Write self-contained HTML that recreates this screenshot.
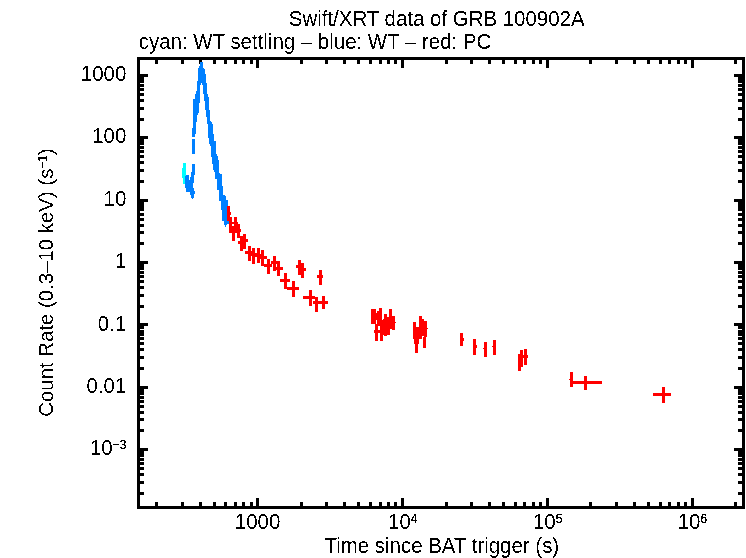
<!DOCTYPE html>
<html><head><meta charset="utf-8"><title>Swift/XRT data of GRB 100902A</title>
<style>
html,body{margin:0;padding:0;background:#fff;}
svg{display:block}
text{font-family:"Liberation Sans",sans-serif;font-size:21.6px;fill:#000}
</style></head><body>
<svg width="746" height="558" viewBox="0 0 746 558">
<rect width="746" height="558" fill="#fff"/>
<g shape-rendering="crispEdges">
<rect x="137" y="57" width="608" height="3" fill="#000"/>
<rect x="137" y="506" width="608" height="3" fill="#000"/>
<rect x="137" y="57" width="3" height="452" fill="#000"/>
<rect x="742" y="57" width="3" height="452" fill="#000"/>
<rect x="155" y="60" width="3" height="4" fill="#000"/>
<rect x="155" y="502" width="3" height="4" fill="#000"/>
<rect x="181" y="60" width="3" height="4" fill="#000"/>
<rect x="181" y="502" width="3" height="4" fill="#000"/>
<rect x="199" y="60" width="3" height="4" fill="#000"/>
<rect x="199" y="502" width="3" height="4" fill="#000"/>
<rect x="213" y="60" width="3" height="4" fill="#000"/>
<rect x="213" y="502" width="3" height="4" fill="#000"/>
<rect x="224" y="60" width="3" height="4" fill="#000"/>
<rect x="224" y="502" width="3" height="4" fill="#000"/>
<rect x="234" y="60" width="3" height="4" fill="#000"/>
<rect x="234" y="502" width="3" height="4" fill="#000"/>
<rect x="242" y="60" width="3" height="4" fill="#000"/>
<rect x="242" y="502" width="3" height="4" fill="#000"/>
<rect x="250" y="60" width="3" height="4" fill="#000"/>
<rect x="250" y="502" width="3" height="4" fill="#000"/>
<rect x="256" y="60" width="3" height="8" fill="#000"/>
<rect x="256" y="498" width="3" height="8" fill="#000"/>
<rect x="300" y="60" width="3" height="4" fill="#000"/>
<rect x="300" y="502" width="3" height="4" fill="#000"/>
<rect x="325" y="60" width="3" height="4" fill="#000"/>
<rect x="325" y="502" width="3" height="4" fill="#000"/>
<rect x="343" y="60" width="3" height="4" fill="#000"/>
<rect x="343" y="502" width="3" height="4" fill="#000"/>
<rect x="357" y="60" width="3" height="4" fill="#000"/>
<rect x="357" y="502" width="3" height="4" fill="#000"/>
<rect x="369" y="60" width="3" height="4" fill="#000"/>
<rect x="369" y="502" width="3" height="4" fill="#000"/>
<rect x="379" y="60" width="3" height="4" fill="#000"/>
<rect x="379" y="502" width="3" height="4" fill="#000"/>
<rect x="387" y="60" width="3" height="4" fill="#000"/>
<rect x="387" y="502" width="3" height="4" fill="#000"/>
<rect x="394" y="60" width="3" height="4" fill="#000"/>
<rect x="394" y="502" width="3" height="4" fill="#000"/>
<rect x="401" y="60" width="3" height="8" fill="#000"/>
<rect x="401" y="498" width="3" height="8" fill="#000"/>
<rect x="445" y="60" width="3" height="4" fill="#000"/>
<rect x="445" y="502" width="3" height="4" fill="#000"/>
<rect x="470" y="60" width="3" height="4" fill="#000"/>
<rect x="470" y="502" width="3" height="4" fill="#000"/>
<rect x="488" y="60" width="3" height="4" fill="#000"/>
<rect x="488" y="502" width="3" height="4" fill="#000"/>
<rect x="502" y="60" width="3" height="4" fill="#000"/>
<rect x="502" y="502" width="3" height="4" fill="#000"/>
<rect x="514" y="60" width="3" height="4" fill="#000"/>
<rect x="514" y="502" width="3" height="4" fill="#000"/>
<rect x="523" y="60" width="3" height="4" fill="#000"/>
<rect x="523" y="502" width="3" height="4" fill="#000"/>
<rect x="532" y="60" width="3" height="4" fill="#000"/>
<rect x="532" y="502" width="3" height="4" fill="#000"/>
<rect x="539" y="60" width="3" height="4" fill="#000"/>
<rect x="539" y="502" width="3" height="4" fill="#000"/>
<rect x="546" y="60" width="3" height="8" fill="#000"/>
<rect x="546" y="498" width="3" height="8" fill="#000"/>
<rect x="589" y="60" width="3" height="4" fill="#000"/>
<rect x="589" y="502" width="3" height="4" fill="#000"/>
<rect x="615" y="60" width="3" height="4" fill="#000"/>
<rect x="615" y="502" width="3" height="4" fill="#000"/>
<rect x="633" y="60" width="3" height="4" fill="#000"/>
<rect x="633" y="502" width="3" height="4" fill="#000"/>
<rect x="647" y="60" width="3" height="4" fill="#000"/>
<rect x="647" y="502" width="3" height="4" fill="#000"/>
<rect x="659" y="60" width="3" height="4" fill="#000"/>
<rect x="659" y="502" width="3" height="4" fill="#000"/>
<rect x="668" y="60" width="3" height="4" fill="#000"/>
<rect x="668" y="502" width="3" height="4" fill="#000"/>
<rect x="677" y="60" width="3" height="4" fill="#000"/>
<rect x="677" y="502" width="3" height="4" fill="#000"/>
<rect x="684" y="60" width="3" height="4" fill="#000"/>
<rect x="684" y="502" width="3" height="4" fill="#000"/>
<rect x="691" y="60" width="3" height="8" fill="#000"/>
<rect x="691" y="498" width="3" height="8" fill="#000"/>
<rect x="734" y="60" width="3" height="4" fill="#000"/>
<rect x="734" y="502" width="3" height="4" fill="#000"/>
<rect x="140" y="492" width="4" height="3" fill="#000"/>
<rect x="738" y="492" width="4" height="3" fill="#000"/>
<rect x="140" y="481" width="4" height="3" fill="#000"/>
<rect x="738" y="481" width="4" height="3" fill="#000"/>
<rect x="140" y="473" width="4" height="3" fill="#000"/>
<rect x="738" y="473" width="4" height="3" fill="#000"/>
<rect x="140" y="467" width="4" height="3" fill="#000"/>
<rect x="738" y="467" width="4" height="3" fill="#000"/>
<rect x="140" y="462" width="4" height="3" fill="#000"/>
<rect x="738" y="462" width="4" height="3" fill="#000"/>
<rect x="140" y="458" width="4" height="3" fill="#000"/>
<rect x="738" y="458" width="4" height="3" fill="#000"/>
<rect x="140" y="454" width="4" height="3" fill="#000"/>
<rect x="738" y="454" width="4" height="3" fill="#000"/>
<rect x="140" y="451" width="4" height="3" fill="#000"/>
<rect x="738" y="451" width="4" height="3" fill="#000"/>
<rect x="140" y="448" width="8" height="3" fill="#000"/>
<rect x="734" y="448" width="8" height="3" fill="#000"/>
<rect x="140" y="429" width="4" height="3" fill="#000"/>
<rect x="738" y="429" width="4" height="3" fill="#000"/>
<rect x="140" y="418" width="4" height="3" fill="#000"/>
<rect x="738" y="418" width="4" height="3" fill="#000"/>
<rect x="140" y="411" width="4" height="3" fill="#000"/>
<rect x="738" y="411" width="4" height="3" fill="#000"/>
<rect x="140" y="405" width="4" height="3" fill="#000"/>
<rect x="738" y="405" width="4" height="3" fill="#000"/>
<rect x="140" y="400" width="4" height="3" fill="#000"/>
<rect x="738" y="400" width="4" height="3" fill="#000"/>
<rect x="140" y="396" width="4" height="3" fill="#000"/>
<rect x="738" y="396" width="4" height="3" fill="#000"/>
<rect x="140" y="392" width="4" height="3" fill="#000"/>
<rect x="738" y="392" width="4" height="3" fill="#000"/>
<rect x="140" y="389" width="4" height="3" fill="#000"/>
<rect x="738" y="389" width="4" height="3" fill="#000"/>
<rect x="140" y="386" width="8" height="3" fill="#000"/>
<rect x="734" y="386" width="8" height="3" fill="#000"/>
<rect x="140" y="367" width="4" height="3" fill="#000"/>
<rect x="738" y="367" width="4" height="3" fill="#000"/>
<rect x="140" y="356" width="4" height="3" fill="#000"/>
<rect x="738" y="356" width="4" height="3" fill="#000"/>
<rect x="140" y="348" width="4" height="3" fill="#000"/>
<rect x="738" y="348" width="4" height="3" fill="#000"/>
<rect x="140" y="342" width="4" height="3" fill="#000"/>
<rect x="738" y="342" width="4" height="3" fill="#000"/>
<rect x="140" y="337" width="4" height="3" fill="#000"/>
<rect x="738" y="337" width="4" height="3" fill="#000"/>
<rect x="140" y="333" width="4" height="3" fill="#000"/>
<rect x="738" y="333" width="4" height="3" fill="#000"/>
<rect x="140" y="330" width="4" height="3" fill="#000"/>
<rect x="738" y="330" width="4" height="3" fill="#000"/>
<rect x="140" y="326" width="4" height="3" fill="#000"/>
<rect x="738" y="326" width="4" height="3" fill="#000"/>
<rect x="140" y="323" width="8" height="3" fill="#000"/>
<rect x="734" y="323" width="8" height="3" fill="#000"/>
<rect x="140" y="305" width="4" height="3" fill="#000"/>
<rect x="738" y="305" width="4" height="3" fill="#000"/>
<rect x="140" y="294" width="4" height="3" fill="#000"/>
<rect x="738" y="294" width="4" height="3" fill="#000"/>
<rect x="140" y="286" width="4" height="3" fill="#000"/>
<rect x="738" y="286" width="4" height="3" fill="#000"/>
<rect x="140" y="280" width="4" height="3" fill="#000"/>
<rect x="738" y="280" width="4" height="3" fill="#000"/>
<rect x="140" y="275" width="4" height="3" fill="#000"/>
<rect x="738" y="275" width="4" height="3" fill="#000"/>
<rect x="140" y="271" width="4" height="3" fill="#000"/>
<rect x="738" y="271" width="4" height="3" fill="#000"/>
<rect x="140" y="267" width="4" height="3" fill="#000"/>
<rect x="738" y="267" width="4" height="3" fill="#000"/>
<rect x="140" y="264" width="4" height="3" fill="#000"/>
<rect x="738" y="264" width="4" height="3" fill="#000"/>
<rect x="140" y="261" width="8" height="3" fill="#000"/>
<rect x="734" y="261" width="8" height="3" fill="#000"/>
<rect x="140" y="242" width="4" height="3" fill="#000"/>
<rect x="738" y="242" width="4" height="3" fill="#000"/>
<rect x="140" y="231" width="4" height="3" fill="#000"/>
<rect x="738" y="231" width="4" height="3" fill="#000"/>
<rect x="140" y="224" width="4" height="3" fill="#000"/>
<rect x="738" y="224" width="4" height="3" fill="#000"/>
<rect x="140" y="218" width="4" height="3" fill="#000"/>
<rect x="738" y="218" width="4" height="3" fill="#000"/>
<rect x="140" y="213" width="4" height="3" fill="#000"/>
<rect x="738" y="213" width="4" height="3" fill="#000"/>
<rect x="140" y="208" width="4" height="3" fill="#000"/>
<rect x="738" y="208" width="4" height="3" fill="#000"/>
<rect x="140" y="205" width="4" height="3" fill="#000"/>
<rect x="738" y="205" width="4" height="3" fill="#000"/>
<rect x="140" y="202" width="4" height="3" fill="#000"/>
<rect x="738" y="202" width="4" height="3" fill="#000"/>
<rect x="140" y="199" width="8" height="3" fill="#000"/>
<rect x="734" y="199" width="8" height="3" fill="#000"/>
<rect x="140" y="180" width="4" height="3" fill="#000"/>
<rect x="738" y="180" width="4" height="3" fill="#000"/>
<rect x="140" y="169" width="4" height="3" fill="#000"/>
<rect x="738" y="169" width="4" height="3" fill="#000"/>
<rect x="140" y="161" width="4" height="3" fill="#000"/>
<rect x="738" y="161" width="4" height="3" fill="#000"/>
<rect x="140" y="155" width="4" height="3" fill="#000"/>
<rect x="738" y="155" width="4" height="3" fill="#000"/>
<rect x="140" y="150" width="4" height="3" fill="#000"/>
<rect x="738" y="150" width="4" height="3" fill="#000"/>
<rect x="140" y="146" width="4" height="3" fill="#000"/>
<rect x="738" y="146" width="4" height="3" fill="#000"/>
<rect x="140" y="142" width="4" height="3" fill="#000"/>
<rect x="738" y="142" width="4" height="3" fill="#000"/>
<rect x="140" y="139" width="4" height="3" fill="#000"/>
<rect x="738" y="139" width="4" height="3" fill="#000"/>
<rect x="140" y="136" width="8" height="3" fill="#000"/>
<rect x="734" y="136" width="8" height="3" fill="#000"/>
<rect x="140" y="118" width="4" height="3" fill="#000"/>
<rect x="738" y="118" width="4" height="3" fill="#000"/>
<rect x="140" y="107" width="4" height="3" fill="#000"/>
<rect x="738" y="107" width="4" height="3" fill="#000"/>
<rect x="140" y="99" width="4" height="3" fill="#000"/>
<rect x="738" y="99" width="4" height="3" fill="#000"/>
<rect x="140" y="93" width="4" height="3" fill="#000"/>
<rect x="738" y="93" width="4" height="3" fill="#000"/>
<rect x="140" y="88" width="4" height="3" fill="#000"/>
<rect x="738" y="88" width="4" height="3" fill="#000"/>
<rect x="140" y="84" width="4" height="3" fill="#000"/>
<rect x="738" y="84" width="4" height="3" fill="#000"/>
<rect x="140" y="80" width="4" height="3" fill="#000"/>
<rect x="738" y="80" width="4" height="3" fill="#000"/>
<rect x="140" y="77" width="4" height="3" fill="#000"/>
<rect x="738" y="77" width="4" height="3" fill="#000"/>
<rect x="140" y="74" width="8" height="3" fill="#000"/>
<rect x="734" y="74" width="8" height="3" fill="#000"/>
<rect x="183" y="163" width="3" height="21" fill="#00ffff"/>
<rect x="182" y="168" width="1" height="10" fill="#00ffff"/>
<rect x="192" y="139" width="3" height="15" fill="#0080ff"/>
<rect x="227" y="206" width="3" height="15" fill="#ff0000"/>
<rect x="227" y="212" width="4" height="3" fill="#ff0000"/>
<rect x="229" y="217" width="3" height="16" fill="#ff0000"/>
<rect x="228" y="222" width="7" height="2" fill="#ff0000"/>
<rect x="232" y="226" width="3" height="15" fill="#ff0000"/>
<rect x="234" y="217" width="3" height="16" fill="#ff0000"/>
<rect x="237" y="224" width="3" height="14" fill="#ff0000"/>
<rect x="236" y="229" width="5" height="3" fill="#ff0000"/>
<rect x="237" y="222" width="1" height="2" fill="#ff0000"/>
<rect x="240" y="236" width="3" height="15" fill="#ff0000"/>
<rect x="238" y="241" width="6" height="3" fill="#ff0000"/>
<rect x="243" y="234" width="3" height="15" fill="#ff0000"/>
<rect x="242" y="239" width="6" height="3" fill="#ff0000"/>
<rect x="248" y="246" width="3" height="15" fill="#ff0000"/>
<rect x="245" y="251" width="8" height="3" fill="#ff0000"/>
<rect x="252" y="248" width="3" height="16" fill="#ff0000"/>
<rect x="250" y="253" width="7" height="3" fill="#ff0000"/>
<rect x="257" y="248" width="3" height="15" fill="#ff0000"/>
<rect x="255" y="254" width="7" height="3" fill="#ff0000"/>
<rect x="261" y="250" width="3" height="16" fill="#ff0000"/>
<rect x="260" y="256" width="7" height="3" fill="#ff0000"/>
<rect x="267" y="259" width="3" height="15" fill="#ff0000"/>
<rect x="264" y="264" width="8" height="3" fill="#ff0000"/>
<rect x="273" y="256" width="3" height="15" fill="#ff0000"/>
<rect x="271" y="261" width="9" height="3" fill="#ff0000"/>
<rect x="277" y="261" width="3" height="15" fill="#ff0000"/>
<rect x="275" y="267" width="8" height="3" fill="#ff0000"/>
<rect x="284" y="273" width="3" height="16" fill="#ff0000"/>
<rect x="280" y="279" width="10" height="3" fill="#ff0000"/>
<rect x="292" y="281" width="3" height="16" fill="#ff0000"/>
<rect x="287" y="287" width="12" height="3" fill="#ff0000"/>
<rect x="298" y="260" width="3" height="15" fill="#ff0000"/>
<rect x="296" y="265" width="7" height="3" fill="#ff0000"/>
<rect x="301" y="263" width="3" height="15" fill="#ff0000"/>
<rect x="298" y="268" width="8" height="3" fill="#ff0000"/>
<rect x="319" y="270" width="3" height="15" fill="#ff0000"/>
<rect x="317" y="275" width="6" height="3" fill="#ff0000"/>
<rect x="309" y="290" width="3" height="16" fill="#ff0000"/>
<rect x="303" y="296" width="12" height="3" fill="#ff0000"/>
<rect x="315" y="297" width="3" height="15" fill="#ff0000"/>
<rect x="313" y="301" width="6" height="3" fill="#ff0000"/>
<rect x="322" y="296" width="3" height="13" fill="#ff0000"/>
<rect x="319" y="301" width="9" height="3" fill="#ff0000"/>
<rect x="371" y="309" width="5" height="15" fill="#ff0000"/>
<rect x="376" y="313" width="1" height="7" fill="#ff0000"/>
<rect x="375" y="324" width="3" height="17" fill="#ff0000"/>
<rect x="374" y="330" width="6" height="3" fill="#ff0000"/>
<rect x="377" y="311" width="3" height="15" fill="#ff0000"/>
<rect x="379" y="308" width="3" height="12" fill="#ff0000"/>
<rect x="380" y="320" width="3" height="21" fill="#ff0000"/>
<rect x="383" y="319" width="1" height="16" fill="#ff0000"/>
<rect x="384" y="314" width="3" height="22" fill="#ff0000"/>
<rect x="387" y="317" width="3" height="18" fill="#ff0000"/>
<rect x="389" y="309" width="3" height="20" fill="#ff0000"/>
<rect x="392" y="316" width="3" height="14" fill="#ff0000"/>
<rect x="392" y="322" width="4" height="1" fill="#ff0000"/>
<rect x="413" y="322" width="3" height="17" fill="#ff0000"/>
<rect x="415" y="327" width="3" height="26" fill="#ff0000"/>
<rect x="414" y="339" width="5" height="5" fill="#ff0000"/>
<rect x="416" y="327" width="3" height="12" fill="#ff0000"/>
<rect x="419" y="316" width="3" height="23" fill="#ff0000"/>
<rect x="422" y="319" width="2" height="17" fill="#ff0000"/>
<rect x="424" y="321" width="3" height="16" fill="#ff0000"/>
<rect x="424" y="328" width="4" height="1" fill="#ff0000"/>
<rect x="423" y="337" width="3" height="11" fill="#ff0000"/>
<rect x="460" y="333" width="3" height="13" fill="#ff0000"/>
<rect x="460" y="338" width="4" height="3" fill="#ff0000"/>
<rect x="473" y="339" width="3" height="16" fill="#ff0000"/>
<rect x="473" y="345" width="4" height="3" fill="#ff0000"/>
<rect x="484" y="342" width="3" height="15" fill="#ff0000"/>
<rect x="483" y="348" width="4" height="1" fill="#ff0000"/>
<rect x="493" y="340" width="3" height="15" fill="#ff0000"/>
<rect x="492" y="346" width="4" height="1" fill="#ff0000"/>
<rect x="518" y="354" width="3" height="17" fill="#ff0000"/>
<rect x="520" y="350" width="3" height="17" fill="#ff0000"/>
<rect x="524" y="349" width="3" height="16" fill="#ff0000"/>
<rect x="522" y="355" width="6" height="3" fill="#ff0000"/>
<rect x="570" y="372" width="3" height="15" fill="#ff0000"/>
<rect x="569" y="379" width="4" height="1" fill="#ff0000"/>
<rect x="584" y="376" width="3" height="14" fill="#ff0000"/>
<rect x="573" y="381" width="29" height="3" fill="#ff0000"/>
<rect x="662" y="387" width="3" height="16" fill="#ff0000"/>
<rect x="653" y="393" width="18" height="3" fill="#ff0000"/>
<polygon points="203,62 203,68 204,68 204,69 205,69 205,74 206,74 206,83 207,83 207,94 208,94 208,97 209,97 209,110 210,110 210,121 211,121 211,122 212,122 212,124 213,124 213,134 214,134 214,141 216,141 216,154 217,154 217,156 218,156 218,160 219,160 219,173 220,173 220,174 222,174 222,186 223,186 223,195 225,195 225,196 226,196 226,200 228,200 228,206 227,206 227,221 229,221 229,224 227,224 225.5,226.5 224,224.5 224,221 222,221 222,210 221,210 221,201 219,201 219,190 217,190 217,179 215,179 215,172 214,172 214,170 213,170 213,164 212,164 212,157 211,157 211,146 210,146 210,144 209,144 209,138 208,138 208,124 207,124 207,117 206,117 206,110 205,110 205,101 204,101 204,94 203,94 203,85 202,85 202,83 201.5,82.5 201,83 201,85 200,85 200,103 199,103 199,113 198,113 198,115 197,115 197,122 196,122 196,134 195,134 195,137 192,137 192,128 193,128 193,99 195,99 195,94 196,94 196,91 197,91 197,81 198,81 198,68 199,68 199,66 200,66 200,62" fill="#0080ff"/>
<polygon points="192,164 195,164 195,175 194,175 194,183 193,183 193,188 194,188 194,191 195,191 195,194 194,194 194,198 193,198 193,199 192,199 192,198 191,198 191,195 190,195 190,192 186,192 186,188 185,188 185,176 186,176 186,175 189,175 189,180 190,180 190,177 191,177 191,172 192,172" fill="#0080ff"/>
</g>
<defs>
<filter id="th" filterUnits="userSpaceOnUse" x="0" y="0" width="746" height="558" color-interpolation-filters="sRGB"><feComponentTransfer><feFuncA type="discrete" tableValues="0 1"/></feComponentTransfer></filter>
<filter id="th2" filterUnits="userSpaceOnUse" x="0" y="0" width="746" height="558" color-interpolation-filters="sRGB"><feComponentTransfer><feFuncA type="discrete" tableValues="0 0 1 1 1 1"/></feComponentTransfer></filter>
</defs>
<g filter="url(#th)">
<text transform="translate(288.80,26.20) scale(0.947,1)" style="font-size:21.6px">Swift/XRT data of GRB 100902A</text>
<text transform="translate(138.80,48.90) scale(0.947,1)" style="font-size:21.6px">cyan: WT settling – blue: WT – red: PC</text>
<text transform="translate(324.48,553.00) scale(0.947,1)" style="font-size:21.6px">Time since BAT trigger (s)</text>
<text transform="translate(80.80,81.00) scale(0.947,1)" style="font-size:21.6px">1000</text>
<text transform="translate(92.18,143.40) scale(0.947,1)" style="font-size:21.6px">100</text>
<text transform="translate(103.54,205.70) scale(0.947,1)" style="font-size:21.6px">10</text>
<text transform="translate(114.92,268.10) scale(0.947,1)" style="font-size:21.6px">1</text>
<text transform="translate(97.86,330.50) scale(0.947,1)" style="font-size:21.6px">0.1</text>
<text transform="translate(86.50,392.80) scale(0.947,1)" style="font-size:21.6px">0.01</text>
<text transform="translate(89.94,455.20) scale(0.947,1)" style="font-size:21.6px">10</text>
<text transform="translate(234.85,529.00) scale(0.947,1)" style="font-size:21.6px">1000</text>
<text transform="translate(388.10,529.00) scale(0.947,1)" style="font-size:21.6px">10</text>
<text transform="translate(532.90,529.00) scale(0.947,1)" style="font-size:21.6px">10</text>
<text transform="translate(677.70,529.00) scale(0.947,1)" style="font-size:21.6px">10</text>
<text transform="translate(52.50,416.70) rotate(-90) scale(0.985,1)" style="font-size:20.7px">Count Rate (0.3–10 keV) (s</text>
<text transform="translate(52.50,155.09) rotate(-90) scale(0.985,1)" style="font-size:20.7px">)</text>
</g>
<g filter="url(#th2)">
<text transform="translate(112.70,448.90) scale(0.947,1)" style="font-size:12.6px">−3</text>
<text transform="translate(410.86,522.70) scale(0.947,1)" style="font-size:12.6px">4</text>
<text transform="translate(555.66,522.70) scale(0.947,1)" style="font-size:12.6px">5</text>
<text transform="translate(700.46,522.70) scale(0.947,1)" style="font-size:12.6px">6</text>
<text transform="translate(46.90,168.65) rotate(-90) scale(0.985,1)" style="font-size:12.07px">−1</text>
</g>
</svg>
</body></html>
